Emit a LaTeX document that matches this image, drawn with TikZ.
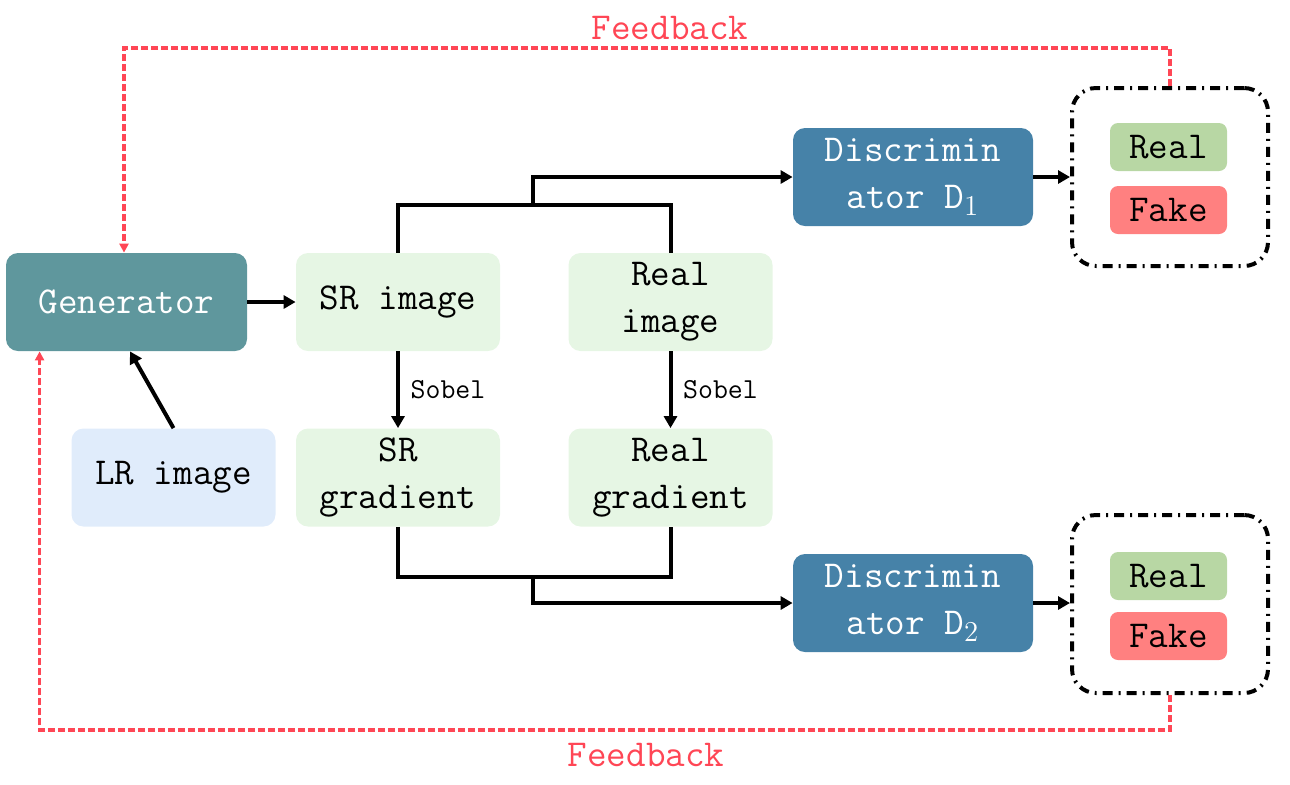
\documentclass[tikz,border=0pt]{standalone}
\usepackage{fontspec}
\usepackage{tikz}
\usetikzlibrary{arrows.meta,positioning}
\definecolor{genteal}{RGB}{95,151,157}
\definecolor{discblue}{RGB}{70,130,168}
\definecolor{imggreen}{RGB}{230,246,228}
\definecolor{lrblue}{RGB}{224,236,251}
\definecolor{realgreen}{RGB}{184,215,164}
\definecolor{fakered}{RGB}{255,128,128}
\definecolor{fbred}{RGB}{255,70,85}
\tikzset{box/.style={rounded corners=6pt,minimum width=102pt,minimum height=49pt,
        align=center,inner sep=0pt,font=\ttfamily\fontsize{19}{23.5}\selectfont},
    gennode/.style={box,fill=genteal,text=white,minimum width=120.5pt},
    discnode/.style={box,fill=discblue,text=white,minimum width=120pt},
    imgnode/.style={box,fill=imggreen},
    lrnode/.style={box,fill=lrblue},
    tag/.style={box,rounded corners=4pt,minimum width=58.5pt,minimum height=24pt},
    outbox/.style={draw,line width=2pt,rounded corners=12pt,minimum width=98pt,
        minimum height=89pt,dash pattern=on 5pt off 3pt on 1pt off 3pt},
    arr/.style={line width=2pt,-{Triangle[length=6pt,width=6.5pt]}},
    link/.style={line width=2pt},
    fb/.style={fbred,line width=1.6pt,dash pattern=on 3.5pt off 1.5pt,
        -{Triangle[length=4.5pt,width=4.5pt]}},
    fbtext/.style={text=fbred,font=\ttfamily\fontsize{19}{22}\selectfont},
    sobel/.style={font=\ttfamily\fontsize{14.5}{16}\selectfont,right=2pt}}

\begin{document}
\begin{tikzpicture}[x=0.5pt,y=-0.5pt]
    \useasboundingbox (0,0) rectangle (1290,784);
    % main nodes
    \node[gennode] (gen) at (126.5,302) {Generator};
    \node[imgnode] (sr) at (398,302) {SR image};
    \node[imgnode] (real) at (670.5,302) {Real\\image};
    \node[imgnode] (srgrad) at (398,477.5) {SR\\gradient};
    \node[imgnode] (realgrad) at (670.5,477.5) {Real\\gradient};
    \node[lrnode] (lr) at (173.5,477.5) {LR image};
    \node[discnode] (d1) at (913,177) {Discrimin\\ator D$_1$};
    \node[discnode] (d2) at (913,603) {Discrimin\\ator D$_2$};
    % outputs
    \node[outbox] (out1) at (1170,177) {};
    \node[tag,fill=realgreen] (real1) at (1168.5,147) {Real};
    \node[tag,fill=fakered] (fake1) at (1168.5,210) {Fake};
    \node[outbox] (out2) at (1170,604) {};
    \node[tag,fill=realgreen] (real2) at (1168.5,576) {Real};
    \node[tag,fill=fakered] (fake2) at (1168.5,636) {Fake};
    \coordinate (jtop) at (533,205);
    \coordinate (jbot) at (533,576);

    \draw[arr] (gen) -- (sr);
    \draw[arr] (lr.north) -- ([xshift=1.75pt]gen.south);
    \draw[link] (sr.north) -- ++(0,-48) -| (real.north);
    \draw[arr] (jtop) |- (d1.west);
    \draw[arr] (sr) -- node[sobel]{Sobel} (srgrad);
    \draw[arr] (real) -- node[sobel]{Sobel} (realgrad);
    \draw[link] (srgrad.south) -- ++(0,50) -| (realgrad.south);
    \draw[arr] (jbot) |- (d2.west);
    \draw[arr] (d1.east) -- (d1.east -| out1.west);
    \draw[arr] (d2.east) -- (d2.east -| out2.west);

    % feedback
    \draw[fb] (out1.north) -- ++(0,-38) -| ([xshift=-1.25pt]gen.north);
    \draw[fb] (out2.south) -- ++(0,35) -| ([xshift=17pt]gen.south west);
    \node[fbtext] (fbtop) at (670,28) {Feedback};
    \node[fbtext] (fbbot) at (646,755) {Feedback};
\end{tikzpicture}
\end{document}
